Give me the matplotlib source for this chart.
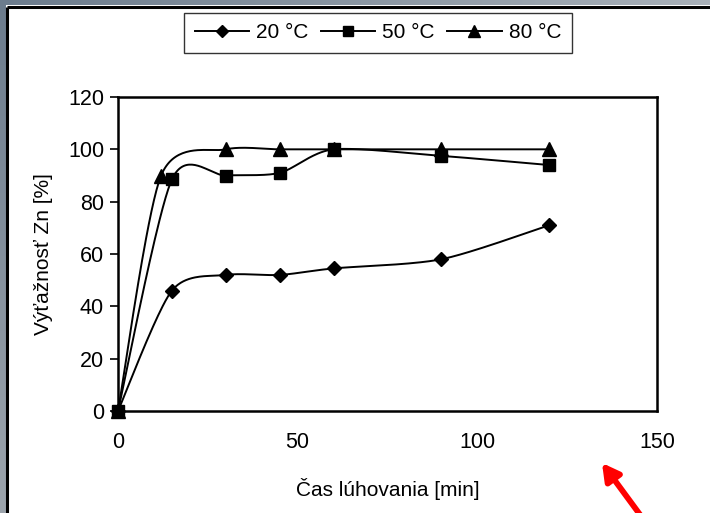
import numpy as np
import matplotlib
matplotlib.use("Agg")
import matplotlib.pyplot as plt
from matplotlib.lines import Line2D

plt.rcParams['font.family'] = ['Liberation Sans', 'DejaVu Sans']

# Leaching time [min] and zinc yield [%] for three temperatures
time_20 = [0, 15, 30, 45, 60, 90, 120]
yield_20 = [0, 46, 52, 52, 54.5, 58, 71]
time_50 = [0, 15, 30, 45, 60, 90, 120]
yield_50 = [0, 88.5, 90, 91, 100, 97.5, 94]
time_80 = [0, 12, 30, 45, 60, 90, 120]
yield_80 = [0, 90, 100, 100, 100, 100, 100]
labels = ['20 °C', '50 °C', '80 °C']
markers = ['D', 's', '^']
marker_sizes = [7.5, 8.5, 10]

x_ticks = [0, 50, 100, 150]
y_ticks = [0, 20, 40, 60, 80, 100, 120]


def smooth(xs, ys, n=40, tension=0.8):
    """Cardinal curve through the points, expressed as cubic Bezier segments."""
    p = np.column_stack([xs, ys]).astype(float)
    ext = np.vstack([p[0], p, p[-1]])
    out = [p[:1]]
    t = np.linspace(0, 1, n)[1:, None]
    k = tension / 6.0
    for i in range(len(p) - 1):
        p0, p1, p2, p3 = ext[i], ext[i + 1], ext[i + 2], ext[i + 3]
        c1 = p1 + (p2 - p0) * k
        c2 = p2 - (p3 - p1) * k
        seg = ((1 - t) ** 3) * p1 + 3 * ((1 - t) ** 2) * t * c1 \
            + 3 * (1 - t) * t ** 2 * c2 + t ** 3 * p2
        out.append(seg)
    c = np.vstack(out)
    return c[:, 0], c[:, 1]


fig = plt.figure(figsize=(7.10, 5.13), dpi=100)
fig.patch.set_facecolor('white')

ax = fig.add_axes([118 / 710, 1 - 411 / 513, (657 - 118) / 710, (411 - 97) / 513])

series = [(time_20, yield_20), (time_50, yield_50), (time_80, yield_80)]
for (xs, ys), m, ms in zip(series, markers, marker_sizes):
    sx, sy = smooth(xs, ys)
    ax.plot(sx, sy, color='black', lw=1.4, solid_capstyle='round', clip_on=False, zorder=3)
    ax.plot(xs, ys, ls='none', marker=m, ms=ms, color='black', clip_on=False, zorder=4)

ax.set_xlim(0, 150)
ax.set_ylim(0, 120)
ax.set_xticks(x_ticks)
ax.set_yticks(y_ticks)
ax.tick_params(axis='x', length=0, pad=15, labelsize=15.5)
ax.tick_params(axis='y', direction='out', length=6, width=1.2, pad=4, labelsize=15.5)
for s in ax.spines.values():
    s.set_linewidth(1.8)
ax.set_xlabel('Čas lúhovania [min]', fontsize=15, labelpad=18)
ax.set_ylabel('Výťažnosť Zn [%]', fontsize=15, labelpad=11)

handles = [Line2D([], [], color='black', lw=1.4, marker=m, ms=ms * 0.85)
           for m, ms in zip(markers, marker_sizes)]
leg = fig.legend(handles, labels, loc='center', bbox_to_anchor=(378 / 710, 1 - 33 / 513),
                 ncol=3, frameon=True, fancybox=False, fontsize=15,
                 handlelength=2.6, handletextpad=0.35, columnspacing=0.6,
                 borderpad=0.5, borderaxespad=0)
leg.get_frame().set_edgecolor('black')
leg.get_frame().set_linewidth(1.0)

# Window frame and pointer arrow
ov = fig.add_axes([0, 0, 1, 1])
ov.set_xlim(0, 710)
ov.set_ylim(513, 0)
ov.axis('off')
grad = np.linspace(0, 1, 256)[None, :]
top_cmap = matplotlib.colors.LinearSegmentedColormap.from_list('top', ['#6c7c8d', '#a9b1b9'])
ov.imshow(grad, cmap=top_cmap, extent=[0, 710, 5.5, 0], aspect='auto', zorder=1)
left_grad = np.linspace(0, 1, 256)[:, None]
left_cmap = matplotlib.colors.LinearSegmentedColormap.from_list('left', ['#6c7c8d', '#9ca4ac'])
ov.imshow(left_grad, cmap=left_cmap, extent=[0, 5.5, 513, 0], aspect='auto', zorder=1)
ov.plot([6.5, 710], [6.5, 6.5], color='black', lw=2.2, solid_capstyle='butt', zorder=2)
ov.plot([6.5, 6.5], [6.5, 513], color='black', lw=2.2, solid_capstyle='butt', zorder=2)
ov.annotate('', xy=(602, 463), xytext=(641, 516),
            arrowprops=dict(arrowstyle='-|>,head_length=1.0,head_width=0.55',
                            color='#ff0000', lw=4.2, shrinkA=0, shrinkB=0))
ov.set_xlim(0, 710)
ov.set_ylim(513, 0)

fig.savefig('out.png', dpi=100, facecolor='white')
